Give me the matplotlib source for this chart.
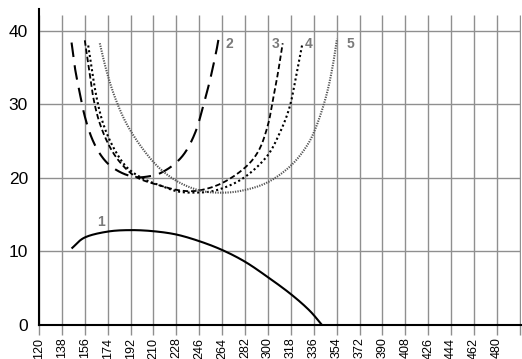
import matplotlib
matplotlib.use("Agg")
import matplotlib.pyplot as plt
import numpy as np

plt.rcParams['font.family'] = ['Liberation Sans', 'DejaVu Sans']

# curve 1 (solid)
x1 = [145.6, 156, 174, 192, 210, 228, 246, 264, 282, 300, 318, 332.5, 342.5]
y1 = [10.4, 11.9, 12.7, 12.9, 12.75, 12.3, 11.4, 10.2, 8.6, 6.5, 4.2, 2.0, 0.0]

# curve 2 (long dash)
x2 = [145.6, 148.2, 152.2, 156.1, 161.3, 167.8, 175.7, 186.1, 196.6, 206, 214.9, 226.7, 235.8, 243.6, 248.8, 254.3, 259.5, 262]
y2 = [38.4, 35.0, 31.4, 28.3, 25.5, 23.3, 21.7, 20.6, 20.1, 20.2, 20.6, 21.9, 23.7, 26.5, 29.6, 33.2, 37.3, 39.8]

# curve 3 (short dash)
x3 = [156, 158.7, 162.6, 167.8, 175.7, 184.8, 196.6, 212.3, 230.6, 246, 264, 282, 293, 300, 303.8, 307.7, 310.3, 311.6]
y3 = [38.7, 35.5, 31.0, 27.4, 24.2, 21.9, 20.1, 19.1, 18.3, 18.3, 19.3, 21.4, 23.8, 27.2, 30.5, 34.1, 36.9, 38.3]

# curve 4 (dotted)
x4 = [158.7, 161.3, 165.2, 170.4, 178.3, 188.7, 201.8, 214.9, 228, 241, 259, 280, 298.6, 309, 317, 322, 326.8]
y4 = [38.0, 35.0, 31.0, 27.4, 24.2, 21.5, 19.9, 19.0, 18.2, 18.0, 18.3, 19.9, 22.8, 26.0, 29.6, 33.7, 38.0]

# curve 5 (fine dotted)
x5 = [167.8, 173, 179.6, 188.7, 200.5, 213.6, 228, 244, 259, 277.6, 298.6, 317, 330, 337.8, 345.6, 350.7, 354.3]
y5 = [38.3, 34.6, 31.0, 27.4, 24.2, 21.5, 19.6, 18.4, 18.0, 18.2, 19.3, 21.5, 24.2, 26.9, 31.0, 35.0, 38.9]

xticks = list(range(120, 499, 18))
xlabels = [str(v) if v <= 480 else '' for v in xticks]
yticks = [0, 10, 20, 30, 40]

curve_labels = ['1', '2', '3', '4', '5']
label_pos = [(169, 14.0), (269.5, 38.2), (306, 38.2), (332, 38.2), (364.5, 38.2)]


def smooth(x, y, n=25):
    # Catmull-Rom through the read points (scaled to pixels)
    p = np.column_stack([np.asarray(x, float) / 18 * 22.95, np.asarray(y, float) * 7.37])
    p = np.vstack([2 * p[0] - p[1], p, 2 * p[-1] - p[-2]])
    out = []
    for i in range(1, len(p) - 2):
        p0, p1, p2, p3 = p[i - 1], p[i], p[i + 1], p[i + 2]
        t = np.linspace(0, 1, n, endpoint=False)[:, None]
        seg = 0.5 * ((2 * p1) + (-p0 + p2) * t + (2 * p0 - 5 * p1 + 4 * p2 - p3) * t ** 2
                     + (-p0 + 3 * p1 - 3 * p2 + p3) * t ** 3)
        out.append(seg)
    out.append(p[-2][None, :])
    out = np.vstack(out)
    return out[:, 0] * 18 / 22.95, out[:, 1] / 7.37


fig = plt.figure(figsize=(5.22, 3.59), dpi=100)
ax = fig.add_axes([0.0747, 0.0947, 0.9225, 0.879])

ax.set_xlim(120, 498.6)
ax.set_ylim(0, 42.9)

for v in xticks:
    ax.vlines(v, 0, 42.2, colors='#8f8f8f', lw=1.0, zorder=1)
for v in yticks[1:]:
    ax.hlines(v, 120, 498.6, colors='#8f8f8f', lw=1.0, zorder=1)

ax.plot(*smooth(x1, y1), color='black', lw=1.5, solid_capstyle='butt', zorder=3)
ax.plot(*smooth(x2, y2), color='black', lw=1.5, linestyle=(0, (7, 4)), zorder=3)
ax.plot(*smooth(x3, y3), color='black', lw=1.3, linestyle=(0, (3, 1.6)), zorder=3)
ax.plot(*smooth(x4, y4), color='black', lw=1.5, linestyle=(0, (1, 1.3)), zorder=3)
ax.plot(*smooth(x5, y5), color='#555555', lw=1.5, linestyle=(0, (0.6, 0.6)), zorder=3)

for lab, (lx, ly) in zip(curve_labels, label_pos):
    ax.text(lx, ly, lab, color='#7a7a7a', fontsize=10, fontweight='bold',
            ha='center', va='center', zorder=4)

ax.set_xticks(xticks)
ax.set_xticklabels(xlabels, rotation=90, fontsize=9)
ax.set_yticks(yticks)
ax.set_yticklabels([str(v) for v in yticks], fontsize=12.5)
ax.tick_params(axis='x', length=7, color='#8f8f8f', width=1.0, pad=2)
ax.tick_params(axis='y', length=0, pad=8)

ax.spines['top'].set_visible(False)
ax.spines['right'].set_visible(False)
ax.spines['left'].set_linewidth(1.5)
ax.spines['bottom'].set_linewidth(1.5)

fig.savefig('out.png', dpi=100)
